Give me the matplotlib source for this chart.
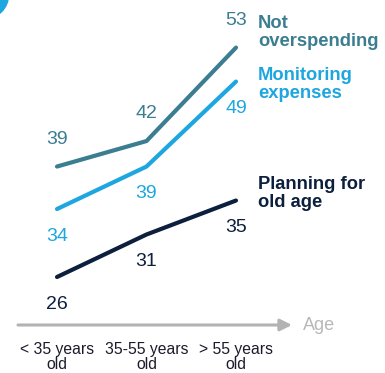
import matplotlib
matplotlib.use("Agg")
import matplotlib.pyplot as plt
from matplotlib.patches import Circle

plt.rcParams["font.family"] = ["Liberation Sans", "DejaVu Sans"]

# 年齢層ごとの割合 (%)
age_groups = ["< 35 years\nold", "35-55 years\nold", "> 55 years\nold"]
not_overspending = [39, 42, 53]
monitoring_expenses = [34, 39, 49]
planning_old_age = [26, 31, 35]

series_names = ["Not\noverspending", "Monitoring\nexpenses", "Planning for\nold age"]
series_values = [not_overspending, monitoring_expenses, planning_old_age]
series_colors = ["#3b7d91", "#1da6df", "#0c1f3c"]
# 数値ラベルを線の上(+)に置くか下(-)に置くか
label_side = [1, -1, -1]
# 系列名の縦位置 (線の終点からのずれ, pt)
name_offset = [11, -2, 5]

fig = plt.figure(figsize=(3.85, 3.73), dpi=100)
ax = fig.add_axes([0, 48 / 373, 1, 1 - 48 / 373])
ax.set_xlim(-0.637, 3.665)
ax.set_ylim(20.35, 58.6)
for s in ax.spines.values():
    s.set_visible(False)
ax.set_yticks([])

x = list(range(len(age_groups)))
for vals, name, color, side, noff in zip(series_values, series_names, series_colors,
                                         label_side, name_offset):
    ax.plot(x, vals, color=color, lw=3.0, solid_capstyle="round",
            solid_joinstyle="round")
    for xi, v in zip(x, vals):
        ax.annotate(str(v), (xi, v), xytext=(0, 19.5 * side),
                    textcoords="offset points", ha="center", va="center",
                    fontsize=14, color=color)
    ax.annotate(name, (x[-1], vals[-1]), xytext=(16, noff),
                textcoords="offset points", ha="left", va="center",
                fontsize=13.2, fontweight="bold", color=color, linespacing=1.1)

# 横軸 (矢印)
ax.annotate("", xy=(292 / 385, 0), xytext=(18 / 385, 0), xycoords="axes fraction",
            arrowprops=dict(arrowstyle="-|>,head_length=0.7,head_width=0.35",
                            color="#b3b3b3", lw=2.2, shrinkA=0, shrinkB=0))
ax.text(303 / 385, 0, "Age", transform=ax.transAxes, ha="left", va="center",
        fontsize=13, color="#b8b8b8")

ax.set_xticks(x)
ax.set_xticklabels(age_groups, fontsize=11.3, color="#1b1b2b", linespacing=1.0)
ax.tick_params(axis="x", length=0, pad=12)

# 左上の丸い装飾
fig.add_artist(Circle((-0.15, 3.78), 0.235, transform=fig.dpi_scale_trans,
                      color="#1da6df", clip_on=False))

fig.savefig("out.png", dpi=100, facecolor="white")
